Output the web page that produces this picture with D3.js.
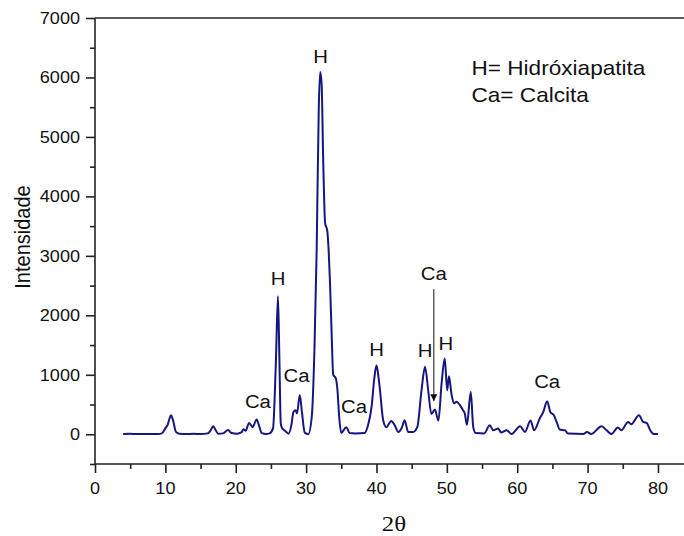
<!DOCTYPE html>
<html>
<head>
<meta charset="utf-8">
<script src="https://cdn.jsdelivr.net/npm/d3@7"></script>
<style>
  html, body { margin: 0; padding: 0; background: #fff; }
  svg { display: block; }
</style>
</head>
<body>
<svg id="chart" width="684" height="536"></svg>
<script>
// ---- data ----
const twoTheta = [4.0,5.0,6.0,7.0,8.0,9.0,9.5,10.0,10.3,10.8,11.1,11.5,12.0,13,14,15,16,16.4,16.8,17.1,17.5,18.2,18.9,19.4,20.2,20.8,21.1,21.4,21.9,22.4,22.97,23.3,23.7,24.3,24.8,25.3,25.7,26.0,26.2,26.4,26.6,27.0,27.5,27.9,28.2,28.5,28.7,29.1,29.4,29.8,30.3,30.8,31.2,31.5,31.8,32.0,32.2,32.45,32.7,33.0,33.2,33.4,33.65,33.85,34.2,34.45,34.7,35.0,35.7,36.2,37.0,38.3,38.8,39.3,39.7,40.0,40.3,40.5,40.95,41.4,42.1,42.6,43.1,43.6,44.0,44.5,45.2,45.8,46.4,46.9,47.35,47.8,48.3,48.8,49.25,49.7,50.05,50.3,50.65,51.0,51.4,51.85,52.3,52.55,52.85,53.4,53.75,54.1,55.3,56.1,56.6,57.3,57.7,58.5,59.2,60.4,61.1,61.9,62.4,63.2,63.7,64.25,64.7,65.2,65.6,66.05,66.8,67.2,69.4,69.9,70.5,72.0,72.7,73.4,74.3,74.8,75.75,76.2,77.3,77.9,78.4,78.9,79.4,80.0];
const intensity = [5,8,5,5,5,5,15,100,150,320,230,40,10,5,8,5,15,60,135,80,10,15,70,20,10,30,85,60,190,120,250,150,20,5,15,100,1200,2320,1300,180,100,60,10,150,375,405,350,660,380,30,0,290,1500,3100,5500,6090,5900,4500,3550,3430,3100,2540,1600,1000,950,750,290,20,120,20,15,20,150,460,950,1160,950,740,235,120,225,150,40,110,235,40,40,120,740,1135,740,340,415,230,850,1275,740,975,685,520,545,490,405,350,160,712,120,20,15,150,67,96,30,67,5,135,40,230,67,265,375,555,375,320,207,79,67,12,5,40,5,135,67,5,113,67,207,168,320,207,190,67,5,5];

const xTickValues = [0,10,20,30,40,50,60,70,80];
const xMinorValues = [5,15,25,35,45,55,65,75];
const yTickValues = [0,1000,2000,3000,4000,5000,6000,7000];
const yMinorValues = [-500,500,1500,2500,3500,4500,5500,6500];

const peakLabels = ["H","Ca","Ca","H","Ca","H","H","H","Ca","Ca"];
const peakLabelX = [26.03,23.15,28.65,32.06,36.8,40.0,46.9,49.86,48.15,64.25];
const peakLabelY = [2508,438,880,6246,354,1313,1296,1414,2593,774];

const legendLines = ["H= Hidróxiapatita","Ca= Calcita"];
const xTitle = "2θ";
const yTitle = "Intensidade";

// ---- layout ----
const SX = 1.13; // horizontal stretch seen in the reference text
const FONT = "'Liberation Sans', Arial, sans-serif";
const svg = d3.select("#chart");

const x = d3.scaleLinear().domain([0, 83.7]).range([95, 684]);
const y = d3.scaleLinear().domain([-500, 7000]).range([464, 18]);

function stext(g, str, px, py, size, anchor, family) {
  return g.append("text")
    .attr("transform", `translate(${px},${py}) scale(${SX},1)`)
    .attr("text-anchor", anchor || "middle")
    .style("font-family", family || FONT)
    .style("font-size", size + "px")
    .attr("fill", "#111")
    .text(str);
}

// axes
svg.append("g").attr("transform", "translate(0,464)")
  .call(d3.axisBottom(x).tickValues(xTickValues).tickSize(9).tickSizeOuter(0).tickFormat(""));
svg.append("g").attr("transform", "translate(0,464)")
  .call(d3.axisBottom(x).tickValues(xMinorValues).tickSize(5).tickSizeOuter(0).tickFormat(""));
svg.append("g").attr("transform", "translate(95,0)")
  .call(d3.axisLeft(y).tickValues(yTickValues).tickSize(9).tickSizeOuter(0).tickFormat(""));
svg.append("g").attr("transform", "translate(95,0)")
  .call(d3.axisLeft(y).tickValues(yMinorValues).tickSize(5).tickSizeOuter(0).tickFormat(""));

svg.selectAll(".domain").remove();
svg.selectAll(".tick line").attr("stroke", "#222").attr("stroke-width", 1.6);

// frame lines
const frame = svg.append("g").attr("stroke", "#222").attr("stroke-width", 1.6).attr("fill", "none");
frame.append("line").attr("x1", x(0)).attr("x2", 684).attr("y1", y(-500)).attr("y2", y(-500));
frame.append("line").attr("x1", x(0)).attr("x2", x(0)).attr("y1", y(-500)).attr("y2", y(7000));
frame.append("line").attr("x1", x(0)).attr("x2", 684).attr("y1", y(7000)).attr("y2", y(7000));

// tick labels
const lab = svg.append("g");
xTickValues.forEach(v => stext(lab, String(v), x(v), 494, 16, "middle"));
yTickValues.forEach(v => stext(lab, String(v), 80, y(v) + 5.7, 16, "end"));

// axis titles
svg.append("text")
  .attr("transform", `translate(30,237) rotate(-90) scale(1,${SX})`)
  .attr("text-anchor", "middle")
  .style("font-family", FONT).style("font-size", "20px").attr("fill", "#111")
  .text(yTitle);
stext(svg, xTitle, 394, 531, 22, "middle", "'Liberation Serif', 'Times New Roman', serif");

// data line
const pts = twoTheta.map((t, i) => [t, intensity[i]]);
svg.append("path")
  .datum(pts)
  .attr("fill", "none")
  .attr("stroke", "#16167f")
  .attr("stroke-width", 2)
  .attr("stroke-linejoin", "round")
  .attr("d", d3.line().x(d => x(d[0])).y(d => y(d[1])).curve(d3.curveMonotoneX));

// peak annotations
const ann = svg.append("g");
peakLabels.forEach((s, i) => stext(ann, s, x(peakLabelX[i]), y(peakLabelY[i]), 18, "middle"));

// arrow for the Ca at ~48
svg.append("defs").append("marker")
  .attr("id", "ah").attr("viewBox", "0 0 10 10").attr("refX", 10).attr("refY", 5)
  .attr("markerWidth", 7).attr("markerHeight", 9).attr("markerUnits", "userSpaceOnUse")
  .attr("orient", "auto")
  .append("path").attr("d", "M0,0 L10,5 L0,10 z").attr("fill", "#111");
svg.append("line")
  .attr("x1", x(48.15)).attr("x2", x(48.15))
  .attr("y1", y(2441)).attr("y2", y(556))
  .attr("stroke", "#111").attr("stroke-width", 1)
  .attr("marker-end", "url(#ah)");

// legend
const leg = svg.append("g");
legendLines.forEach((s, i) => stext(leg, s, 471.5, 74.5 + i * 27, 20, "start"));
</script>
</body>
</html>
